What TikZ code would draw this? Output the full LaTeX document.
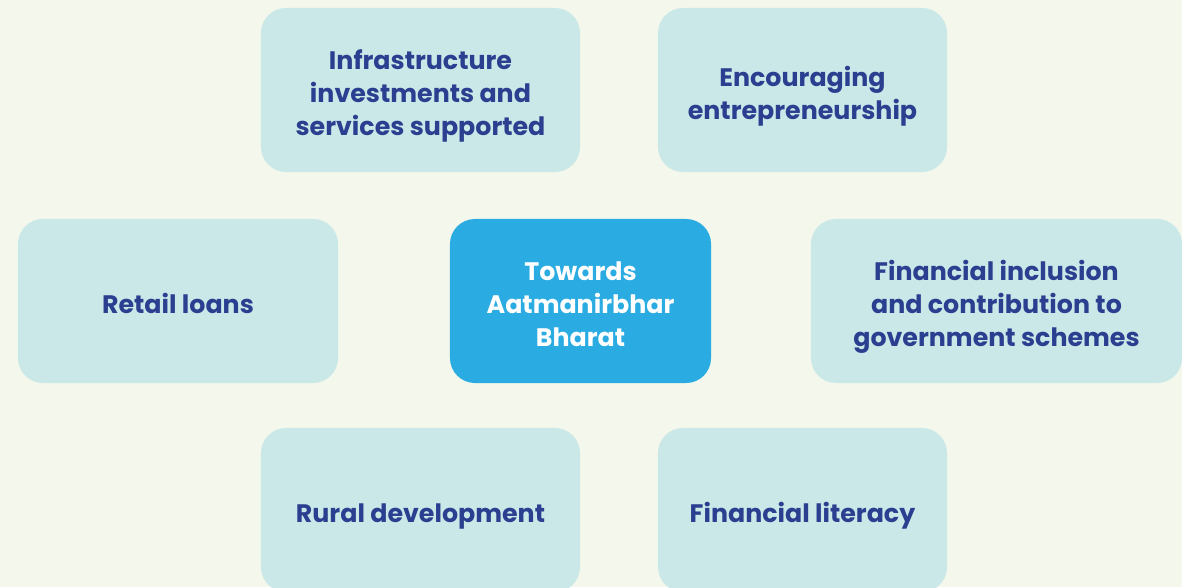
\documentclass[tikz,border=0pt]{standalone}
\usepackage{fontspec}
\setmainfont{Poppins}
\definecolor{pagebg}{HTML}{F4F7EB}
\definecolor{cardfill}{HTML}{CBE8E8}
\definecolor{hubfill}{HTML}{2AACE2}
\definecolor{cardtext}{HTML}{2A3F8F}
\begin{document}
\begin{tikzpicture}[x=0.025cm, y=-0.025cm,
    every node/.style={font=\fontsize{18pt}{23.5pt}\selectfont\bfseries},
    % #1 = number of text lines
    card/.style={fill=cardfill, text=cardtext, rounded corners=0.625cm, align=center, inner sep=0pt, minimum height=4.1cm,
      text height=#1*23.5pt-5.5pt, text depth=0pt},
    card/.default=1,
    hub/.style={card=3, fill=hubfill, text=white}]
    \useasboundingbox (0,0) rectangle (1182,587);
    \fill[pagebg] (0,0) rectangle (1182,587);
    \clip (0,0) rectangle (1182,587);
    \node[hub, minimum width=6.525cm] (hub) at (580.5,301) {Towards\\Aatmanirbhar\\Bharat};
    \node[card=3, minimum width=7.975cm] (infra) at (420.5,90) {Infrastructure\\investments and\\services supported};
    \node[card=2, minimum width=7.225cm] (entre) at (802.5,90) {Encouraging\\entrepreneurship};
    \node[card, minimum width=8cm] (retail) at (178,301) {Retail loans};
    \node[card=3, minimum width=9.275cm] (inclusion) at (996.5,301) {Financial inclusion\\and contribution to\\government schemes};
    \node[card, minimum width=7.975cm] (rural) at (420.5,510) {Rural development};
    \node[card, minimum width=7.225cm] (literacy) at (802.5,510) {Financial literacy};
\end{tikzpicture}
\end{document}
